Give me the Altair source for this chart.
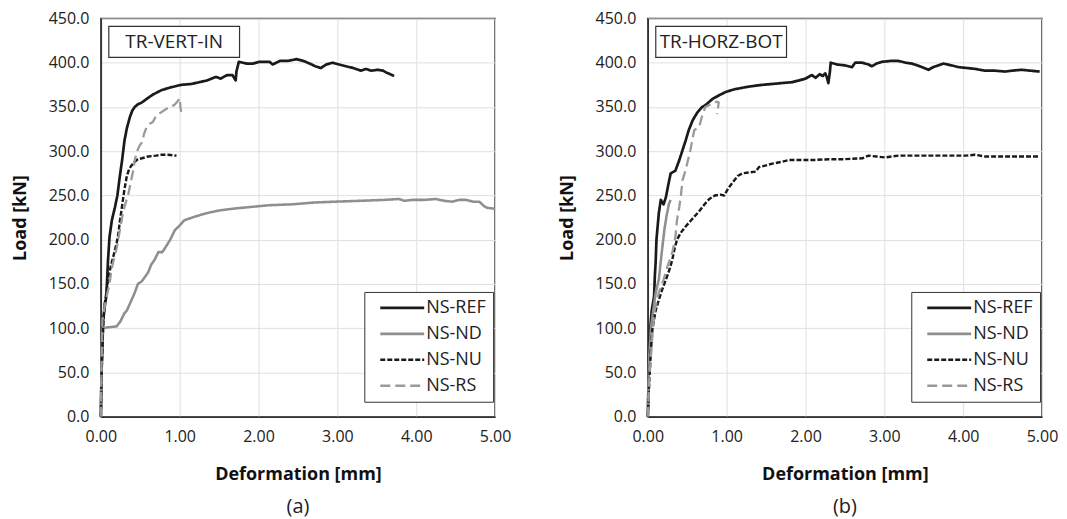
import altair as alt
import pandas as pd

SERIES = ["NS-REF", "NS-ND", "NS-NU", "NS-RS"]
COLORS = ["#1a1a1a", "#8f8f8f", "#1a1a1a", "#9a9a9a"]
DASHES = [[1, 0], [1, 0], [5, 2], [10, 5]]
WIDTHS = [2.7, 2.3, 2.7, 3.2]

X_TICKS = [0, 1, 2, 3, 4, 5]
Y_TICKS = [0, 50, 100, 150, 200, 250, 300, 350, 400, 450]

# ---- Panel (a): TR-VERT-IN  (deformation mm, load kN) ----
A_REF = [(0, 0), (0.01, 53), (0.03, 109), (0.05, 125), (0.07, 136), (0.09, 175), (0.11, 203),
         (0.14, 222), (0.18, 237), (0.21, 250), (0.24, 271), (0.27, 290), (0.30, 312), (0.33, 326),
         (0.37, 339), (0.40, 346), (0.43, 350), (0.47, 353), (0.52, 355), (0.58, 359), (0.66, 364),
         (0.77, 369), (0.88, 372), (1.02, 375), (1.15, 376), (1.25, 378), (1.35, 380), (1.46, 384),
         (1.52, 382), (1.60, 386), (1.67, 386), (1.71, 380), (1.72, 390), (1.75, 401), (1.85, 399),
         (1.93, 399), (2.01, 401), (2.14, 401), (2.18, 398), (2.27, 402), (2.37, 402), (2.48, 404),
         (2.57, 402), (2.65, 399), (2.72, 396), (2.79, 394), (2.86, 398), (2.94, 400), (3.02, 398),
         (3.11, 396), (3.20, 394), (3.30, 391), (3.36, 393), (3.43, 391), (3.51, 392), (3.58, 391),
         (3.62, 389), (3.67, 387), (3.72, 385)]
A_ND = [(0, 0), (0.01, 60), (0.02, 100), (0.09, 101), (0.20, 102), (0.25, 108), (0.30, 117),
        (0.33, 120), (0.37, 128), (0.43, 140), (0.47, 150), (0.52, 153), (0.56, 158), (0.60, 163),
        (0.64, 172), (0.68, 177), (0.73, 186), (0.78, 186), (0.81, 190), (0.88, 200), (0.94, 211),
        (1.00, 216), (1.06, 222), (1.19, 226), (1.34, 230), (1.50, 233), (1.67, 235), (1.90, 237),
        (2.14, 239), (2.43, 240), (2.70, 242), (2.98, 243), (3.30, 244), (3.60, 245), (3.78, 246),
        (3.85, 244), (3.95, 245), (4.10, 245), (4.25, 246), (4.35, 244), (4.45, 243), (4.55, 245),
        (4.63, 245), (4.72, 243), (4.80, 243), (4.86, 238), (4.90, 236), (5.00, 235)]
A_NU = [(0, 0), (0.01, 50), (0.03, 105), (0.05, 128), (0.07, 140), (0.10, 160), (0.135, 173),
        (0.17, 185), (0.20, 196), (0.22, 205), (0.24, 220), (0.26, 232), (0.28, 245), (0.30, 257),
        (0.33, 272), (0.36, 280), (0.39, 284), (0.43, 288), (0.47, 291), (0.52, 292), (0.60, 294),
        (0.70, 295), (0.77, 296), (0.85, 296), (0.96, 295)]
A_RS = [(0, 0), (0.0, 10), (0.01, 60), (0.02, 109), (0.05, 125), (0.08, 138), (0.11, 150),
        (0.135, 166), (0.17, 180), (0.20, 190), (0.22, 200), (0.25, 215), (0.28, 230), (0.31, 240),
        (0.35, 252), (0.38, 265), (0.41, 278), (0.43, 290), (0.46, 300), (0.49, 306), (0.52, 310),
        (0.55, 320), (0.58, 327), (0.62, 331), (0.66, 333), (0.70, 340), (0.75, 343), (0.80, 346),
        (0.87, 350), (0.93, 352), (0.98, 357), (1.00, 360), (1.01, 350), (1.02, 344)]

# ---- Panel (b): TR-HORZ-BOT ----
B_REF = [(0, 0), (0.01, 40), (0.02, 80), (0.03, 98), (0.05, 120), (0.08, 136), (0.09, 160),
         (0.10, 175), (0.11, 200), (0.12, 210), (0.14, 230), (0.165, 245), (0.20, 240), (0.23, 248),
         (0.26, 262), (0.29, 275), (0.35, 278), (0.40, 290), (0.44, 301), (0.48, 312), (0.52, 324),
         (0.57, 335), (0.63, 344), (0.69, 350), (0.73, 352), (0.82, 359), (0.90, 363), (0.99, 367),
         (1.10, 370), (1.28, 373), (1.45, 375), (1.58, 376), (1.70, 377), (1.83, 378), (1.92, 380),
         (2.00, 382), (2.04, 384), (2.08, 386), (2.13, 383), (2.18, 387), (2.22, 385), (2.25, 388),
         (2.27, 384), (2.29, 377), (2.31, 390), (2.32, 400), (2.40, 398), (2.50, 397), (2.59, 395),
         (2.63, 400), (2.72, 400), (2.80, 398), (2.84, 396), (2.90, 399), (2.97, 401), (3.08, 402),
         (3.18, 402), (3.27, 400), (3.35, 399), (3.45, 396), (3.56, 392), (3.62, 395), (3.75, 399),
         (3.85, 397), (3.94, 395), (4.05, 394), (4.15, 393), (4.28, 391), (4.40, 391), (4.53, 390),
         (4.62, 391), (4.74, 392), (4.85, 391), (4.97, 390)]
B_ND = [(0, 0), (0.01, 40), (0.02, 70), (0.04, 100), (0.07, 120), (0.10, 140), (0.14, 155),
        (0.17, 180), (0.21, 211), (0.24, 228), (0.27, 241), (0.29, 245)]
B_NU = [(0, 0), (0.01, 20), (0.02, 42), (0.04, 75), (0.06, 100), (0.10, 120), (0.14, 132),
        (0.18, 143), (0.23, 155), (0.27, 165), (0.31, 177), (0.34, 190), (0.37, 200), (0.42, 208),
        (0.48, 215), (0.55, 222), (0.65, 232), (0.72, 240), (0.78, 246), (0.85, 250), (0.92, 251),
        (0.97, 250), (1.02, 258), (1.07, 264), (1.14, 272), (1.20, 275), (1.28, 276), (1.37, 277),
        (1.41, 282), (1.50, 284), (1.58, 286), (1.70, 288), (1.79, 290), (1.92, 290), (2.10, 290),
        (2.30, 291), (2.50, 291), (2.72, 292), (2.80, 295), (2.90, 294), (3.01, 293), (3.18, 295),
        (3.50, 295), (3.80, 295), (4.03, 295), (4.15, 296), (4.28, 294), (4.60, 294), (4.97, 294)]
B_RS = [(0, 0), (0.01, 20), (0.02, 45), (0.04, 68), (0.06, 95), (0.08, 117), (0.10, 125),
        (0.14, 140), (0.20, 155), (0.25, 170), (0.31, 185), (0.35, 203), (0.37, 222), (0.40, 237),
        (0.42, 250), (0.44, 267), (0.48, 279), (0.51, 290), (0.54, 301), (0.57, 315), (0.59, 324),
        (0.65, 327), (0.69, 340), (0.73, 350), (0.80, 353), (0.88, 356), (0.90, 355), (0.88, 342)]

FONT = "Open Sans"


def frame(series_lists):
    rows = []
    for name, pts in zip(SERIES, series_lists):
        for i, (d, l) in enumerate(pts):
            rows.append({"series": name, "i": i, "d": d, "load": l})
    return pd.DataFrame(rows)


def panel(df, label, caption):
    leg = alt.Legend(
        title=None, orient="none", legendX=264, legendY=274,
        strokeColor="#333333", fillColor="white", padding=7,
        symbolType="M-11,0H11", symbolSize=16, symbolOffset=22,
        labelFontSize=18, labelFont=FONT, labelColor="#222222", labelOffset=15,
        rowPadding=8,
    )
    lines = alt.Chart(df).mark_line(strokeJoin="round", strokeCap="butt").encode(
        x=alt.X("d:Q", scale=alt.Scale(domain=[0, 5], nice=False),
                axis=alt.Axis(values=X_TICKS, format=".2f", title="Deformation [mm]")),
        y=alt.Y("load:Q", scale=alt.Scale(domain=[0, 450], nice=False),
                axis=alt.Axis(values=Y_TICKS, format=".1f", title="Load [kN]")),
        color=alt.Color("series:N", scale=alt.Scale(domain=SERIES, range=COLORS), legend=leg),
        strokeDash=alt.StrokeDash("series:N", scale=alt.Scale(domain=SERIES, range=DASHES), legend=leg),
        strokeWidth=alt.StrokeWidth("series:N", scale=alt.Scale(domain=SERIES, range=WIDTHS), legend=leg),
        order="i:Q",
    )
    lab = pd.DataFrame({"t": [label]})
    box = alt.Chart(lab).mark_rect(fill="white", stroke="#333333", strokeWidth=1.2).encode(
        x=alt.value(8), x2=alt.value(139), y=alt.value(8), y2=alt.value(39))
    txt = alt.Chart(lab).mark_text(font=FONT, fontSize=19, color="#222222",
                                   align="center", baseline="middle").encode(
        x=alt.value(73.5), y=alt.value(24), text="t:N")
    return alt.layer(lines, box, txt).properties(
        width=395, height=399,
        title=alt.TitleParams(caption, orient="bottom", fontSize=20, font=FONT,
                              fontWeight="normal", color="#222222", offset=13, anchor="middle"),
    )


pa = panel(frame([A_REF, A_ND, A_NU, A_RS]), "TR-VERT-IN", "(a)")
pb = panel(frame([B_REF, B_ND, B_NU, B_RS]), "TR-HORZ-BOT", "(b)")

chart = alt.hconcat(pa, pb, spacing=45).resolve_scale(
    color="independent", strokeDash="independent", strokeWidth="independent"
).properties(
    padding={"left": 2, "top": 1, "right": 0, "bottom": 0}
).configure_view(
    stroke="#333333", strokeWidth=1.5
).configure_axis(
    labelFont=FONT, labelFontSize=16, labelColor="#222222",
    titleFont=FONT, titleFontSize=18, titleFontWeight="bold", titleColor="#111111",
    gridColor="#e0e0e0", gridWidth=1, domainColor="#333333", domainWidth=1.5,
    ticks=False, labelPadding=12, labelFlush=False,
).configure_axisX(titlePadding=21).configure_axisY(titlePadding=19)

chart.save("out.html", embed_options={"renderer": "svg", "actions": False})
